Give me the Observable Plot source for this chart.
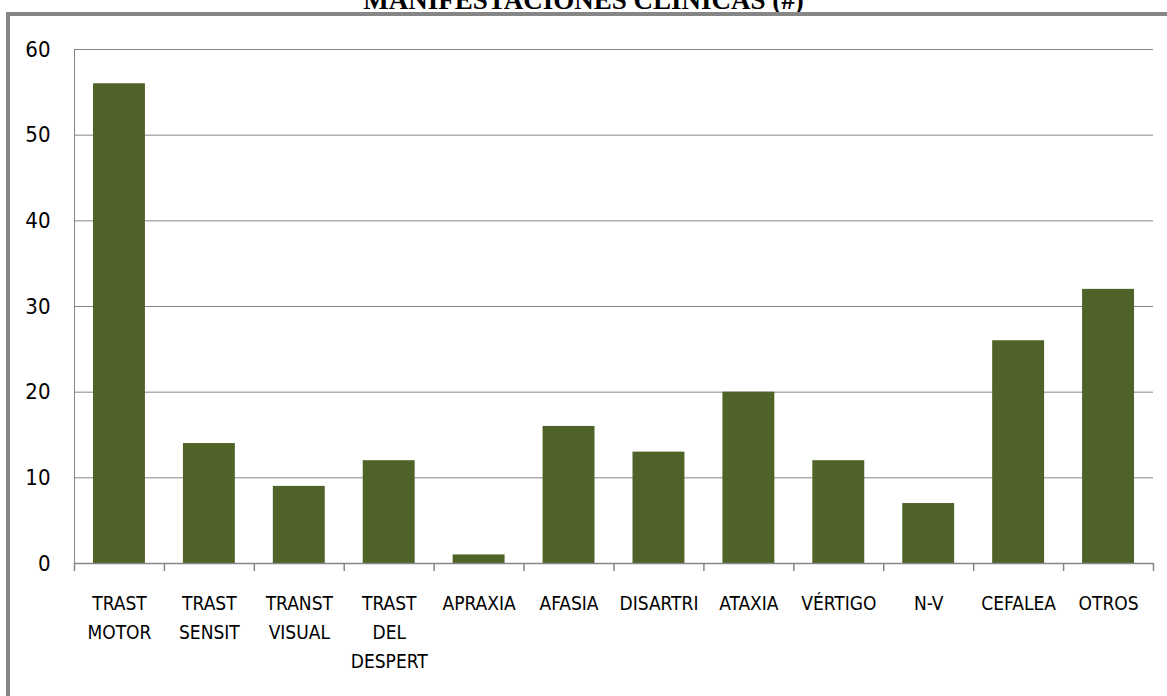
<!DOCTYPE html>
<html>
<head>
<meta charset="utf-8">
<script src="https://cdn.jsdelivr.net/npm/d3@7"></script>
<script src="https://cdn.jsdelivr.net/npm/@observablehq/plot@0.6"></script>
<style>
  html, body { margin: 0; padding: 0; background: #fff; }
  #wrap { position: relative; width: 1167px; height: 696px; overflow: hidden; background: #fff; }
  #title {
    position: absolute; left: 0; top: -13px; width: 1167px; text-align: center;
    font: bold 27px "Liberation Serif", "Times New Roman", serif; line-height: 1; color: #000;
  }
  #frame {
    position: absolute; left: 6px; top: 12px; right: -20px; bottom: -20px;
    border-left: 4px solid #868686; border-top: 4px solid #868686;
  }
  #chart { position: absolute; left: 0; top: 0; }
  #chart svg text { font-stretch: condensed; }
</style>
</head>
<body>
<div id="wrap">
  <div id="title">MANIFESTACIONES CLÍNICAS (#)</div>
  <div id="frame"></div>
  <div id="chart"></div>
</div>
<script>
// Clinical manifestations (counts)
const categories = [
  "TRAST\nMOTOR", "TRAST\nSENSIT", "TRANST\nVISUAL", "TRAST\nDEL\nDESPERT",
  "APRAXIA", "AFASIA", "DISARTRI", "ATAXIA", "VÉRTIGO", "N-V", "CEFALEA", "OTROS"
];
const counts = [56, 14, 9, 12, 1, 16, 13, 20, 12, 7, 26, 32];
const yTicks = [0, 10, 20, 30, 40, 50, 60];

const rows = categories.map((label, i) => ({label, i, value: counts[i]}));
const bandEdges = d3.range(categories.length + 1);

const gray = "#868686";
const condensed = "'DejaVu Sans Condensed', 'DejaVu Sans', sans-serif";
const chart = Plot.plot({
  width: 1167,
  height: 696,
  marginLeft: 74,
  marginRight: 14,
  marginTop: 49,
  marginBottom: 133,
  style: {background: "transparent", color: "#000", fontFamily: condensed},
  x: {domain: [0, categories.length], axis: null},
  y: {domain: [0, 60], axis: null},
  marks: [
    Plot.gridY(yTicks, {stroke: gray, strokeOpacity: 1, strokeWidth: 1}),
    Plot.ruleX([0], {stroke: gray, strokeWidth: 1}),
    Plot.rectY(rows, {
      x1: "i", x2: d => d.i + 1, y: "value",
      insetLeft: 19, insetRight: 19, fill: "#4F6228"
    }),
    Plot.ruleY([0], {stroke: gray, strokeWidth: 1.5}),
    Plot.axisX({ticks: bandEdges, tickSize: 8, tickFormat: () => "", label: null, stroke: gray, strokeWidth: 1.5}),
    Plot.axisY({
      ticks: yTicks, tickSize: 0, tickPadding: 24, fontSize: 22, label: null,
      fontFamily: condensed, fill: "#000"
    }),
    Plot.text(rows, {
      x: d => d.i + 0.5, y: 0, text: "label",
      lineAnchor: "top", dy: 26, lineHeight: 1.52,
      fontSize: 19, fill: "#000", fontFamily: condensed
    })
  ]
});
document.getElementById("chart").appendChild(chart);
</script>
</body>
</html>
